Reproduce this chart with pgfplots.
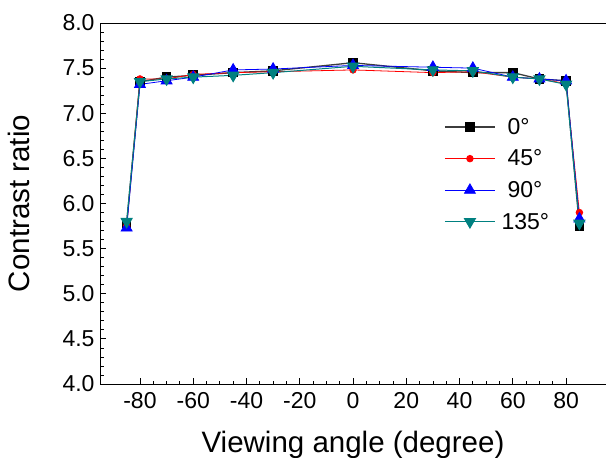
\documentclass[border=0pt]{standalone}
\usepackage{pgfplots}
\pgfplotsset{compat=1.18}
\usepackage{fontspec}
\setmainfont{Liberation Sans}
\definecolor{teal2}{RGB}{0,128,128}
\definecolor{dkgray}{RGB}{60,60,60}
\begin{document}
\begin{tikzpicture}
\useasboundingbox (0,0) rectangle (606bp,458bp);
\begin{axis}[
  at={(100bp,74bp)}, anchor=south west,
  scale only axis, width=506bp, height=361bp,
  xmin=-95, xmax=95, ymin=4, ymax=8,
  xtick={-80,-60,...,80}, minor x tick num=3,
  ytick={4,4.5,...,8}, minor y tick num=4,
  xtick pos=bottom, ytick pos=left,
  tick align=inside,
  major tick length=6bp, minor tick length=3.5bp,
  every tick/.style={black, line width=0.8pt},
  axis line style={line width=0.9pt},
  /pgf/number format/assume math mode=true,
  yticklabel style={xshift=-2bp, /pgf/number format/.cd, fixed, fixed zerofill, precision=1},
  xticklabel style={yshift=-5bp},
  tick label style={font=\fontsize{23bp}{26bp}\selectfont},
  xlabel={Viewing angle (degree)}, ylabel={Contrast ratio},
  label style={font=\fontsize{29.5bp}{32bp}\selectfont},
  xlabel style={yshift=-15bp},
  ylabel style={yshift=26bp},
  legend style={draw=none, fill=none, at={(0.68,0.742)}, anchor=north west,
    font=\fontsize{23bp}{26bp}\selectfont, row sep=10bp, inner sep=0pt},
  legend cell align=left,
  legend image code/.code={\draw[mark repeat=2,mark phase=2] plot coordinates {(0bp,0bp) (25bp,0bp) (50bp,0bp)};},
]
\addplot[dkgray, line width=1.3pt, mark=square*, mark size=4.2bp, mark options={black, fill=black}] coordinates {
(-85,5.78) (-80,7.35) (-70,7.40) (-60,7.42) (-45,7.45) (-30,7.47) (0,7.56) (30,7.47) (45,7.45) (60,7.45) (70,7.38) (80,7.36) (85,5.75)};
\addlegendentry{\hspace{10bp}0°}
\addplot[red, line width=0.8pt, mark=*, mark size=3.3bp, mark options={red, fill=red}] coordinates {
(-85,5.75) (-80,7.38) (-70,7.38) (-60,7.43) (-45,7.45) (-30,7.46) (0,7.48) (30,7.45) (45,7.46) (60,7.40) (70,7.38) (80,7.33) (85,5.90)};
\addlegendentry{\hspace{10bp}45°}
\addplot[blue, line width=0.8pt, mark=triangle*, mark size=6.3bp, mark options={blue, fill=blue}] coordinates {
(-85,5.73) (-80,7.32) (-70,7.36) (-60,7.40) (-45,7.48) (-30,7.49) (0,7.53) (30,7.51) (45,7.50) (60,7.40) (70,7.38) (80,7.36) (85,5.83)};
\addlegendentry{\hspace{10bp}90°}
\addplot[teal2, line width=1pt, mark=triangle*, mark size=6.3bp, mark options={teal2, fill=teal2, rotate=180}] coordinates {
(-85,5.80) (-80,7.35) (-70,7.38) (-60,7.40) (-45,7.42) (-30,7.45) (0,7.52) (30,7.48) (45,7.47) (60,7.40) (70,7.38) (80,7.32) (85,5.78)};
\addlegendentry{\hspace{4bp}135°}
\end{axis}
\end{tikzpicture}
\end{document}
